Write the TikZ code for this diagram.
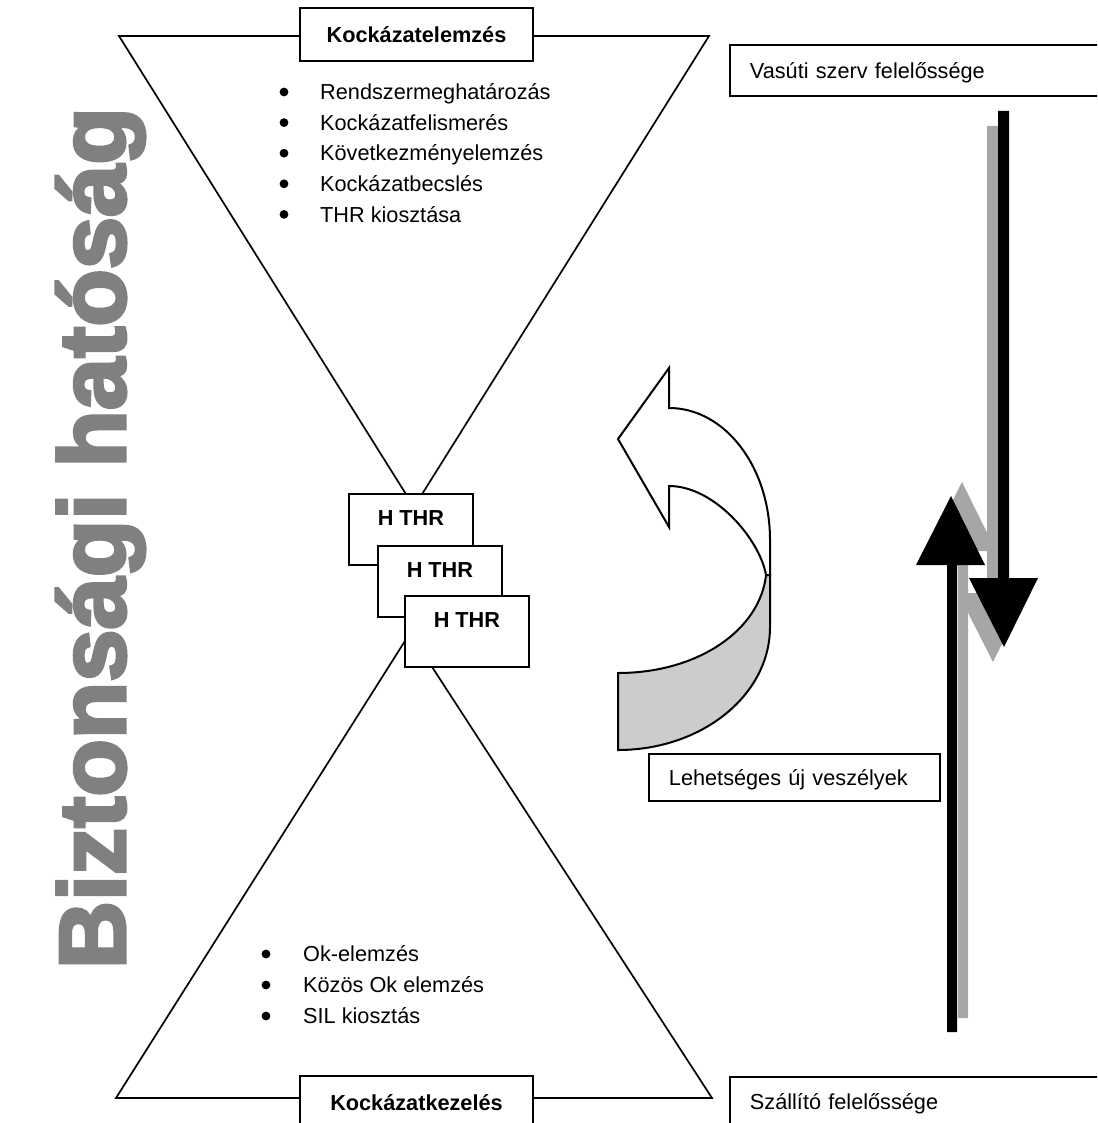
\documentclass[tikz,border=0pt]{standalone}
\usepackage{fontspec}
\setmainfont{Liberation Sans}
\newfontfamily\wordart[FakeBold=3.5]{Liberation Sans Bold}
\definecolor{wagray}{HTML}{808080}
\definecolor{shadowgray}{HTML}{A6A6A6}
\definecolor{ribbon}{HTML}{CCCCCC}
\begin{document}
\begin{tikzpicture}[x=1pt,y=-1pt,line join=miter,
  every node/.style={font=\fontsize{21.7}{26}\selectfont},
  frame/.style={draw,line width=1.9pt,fill=white},
  titlebox/.style={frame,minimum width=233pt,minimum height=53pt,inner sep=0pt,
    text height=15.5pt,text depth=0pt,font=\fontsize{21.7}{26}\selectfont\bfseries},
  sidebox/.style={frame,anchor=north west,text width=360pt,inner xsep=20pt,inner ysep=0pt,
    minimum height=51pt,align=left,text height=15.5pt,text depth=0pt},
  thrbox/.style={frame,anchor=north west,minimum width=124pt,minimum height=71pt,inner sep=0pt},
  thrlabel/.style={inner sep=0pt,font=\fontsize{21.7}{26}\selectfont\bfseries},
  item/.style={anchor=base west,inner sep=0pt},
  dot/.style={fill=black},
  hourglass/.style={line width=1.7pt},
  blockline/.style={draw=black,line width=2pt},
]
\useasboundingbox (0,0) rectangle (1097,1123);
\clip (0,0) rectangle (1097,1123);

% vertical heading
\node[rotate=90,anchor=base,inner sep=0pt,text=wagray,
      font=\wordart\fontsize{94}{100}\selectfont] (authority) at (125,538) {Biztonsági hatóság};

% hourglass: analysis funnel on top, treatment funnel below
\coordinate (tl) at (119,36);  \coordinate (tr) at (709,36);  \coordinate (ta) at (414,507);
\coordinate (bl) at (116,1098);\coordinate (br) at (712,1098);\coordinate (ba) at (410,633);
\draw[hourglass] (tl) -- (tr) -- (ta) -- cycle;
\draw[hourglass] (bl) -- (br) -- (ba) -- cycle;

% stacked hazard boxes
\node[thrbox] (thr1) at (348,493) {};
\node[thrlabel] (thr1l) at ([yshift=-25pt]thr1.north) {H THR};
\node[thrbox] (thr2) at (377,545) {};
\node[thrlabel] (thr2l) at ([yshift=-25pt]thr2.north) {H THR};
\node[thrbox] (thr3) at (404,595) {};
\node[thrlabel] (thr3l) at ([yshift=-25pt]thr3.north) {H THR};

% funnel titles
\node[titlebox] (analysis) at (416.5,34.5) {Kockázatelemzés};
\node[titlebox] (treatment) at (416.5,1102.5) {Kockázatkezelés};

% analysis steps
\foreach \t [count=\i from 0] in {Rendszermeghatározás,Kockázatfelismerés,Következményelemzés,Kockázatbecslés,THR kiosztása}{
  \fill[dot] (284,92+30.6*\i) circle (4.4pt);
  \node[item] (up-\i) at (320,99.8+30.6*\i) {\t};
}
% treatment steps
\foreach \t [count=\i from 0] in {Ok-elemzés,Közös Ok elemzés,SIL kiosztás}{
  \fill[dot] (266,954+31*\i) circle (4.4pt);
  \node[item] (low-\i) at (303,961.8+31*\i) {\t};
}

% responsibility labels
\node[sidebox] (rail) at (729,44) {Vasúti szerv felelőssége};
\node[sidebox,minimum height=50pt] (supplier) at (729,1076) {Szállító felelőssége};
\node[sidebox,text width=251pt,minimum height=47pt] (newhaz) at (648,753) {Lehetséges új veszélyek};

% curved feedback arrow: shaded back ribbon, then the white front with its head
\filldraw[blockline,fill=ribbon] (618,673) .. controls (698,673) and (760,630) .. (766,575)
  -- (770,575) -- (770,627) .. controls (770,695) and (702,750) .. (618,750) -- cycle;
\filldraw[blockline,fill=white] (618,439) -- (669,368) -- (669,408)
  .. controls (725,408) and (770,467) .. (770,540) -- (770,575) -- (766,575)
  .. controls (760,540) and (715,486) .. (669,486) -- (669,527) -- cycle;

% two-way responsibility arrows with offset shadows
\begin{scope}[shift={(11,-14)}]
  \fill[shadowgray] (947,1032) -- (947,565) -- (916,565) -- (951,496) -- (985,565) -- (957,565) -- (957,1032) -- cycle;
\end{scope}
\begin{scope}[shift={(-11,15)}]
  \fill[shadowgray] (998,111) -- (998,578) -- (969,578) -- (1004,647) -- (1038,578) -- (1009,578) -- (1009,111) -- cycle;
\end{scope}
\fill[black] (947,1032) -- (947,565) -- (916,565) -- (951,496) -- (985,565) -- (957,565) -- (957,1032) -- cycle;
\fill[black] (998,111) -- (998,578) -- (969,578) -- (1004,647) -- (1038,578) -- (1009,578) -- (1009,111) -- cycle;
\end{tikzpicture}
\end{document}
